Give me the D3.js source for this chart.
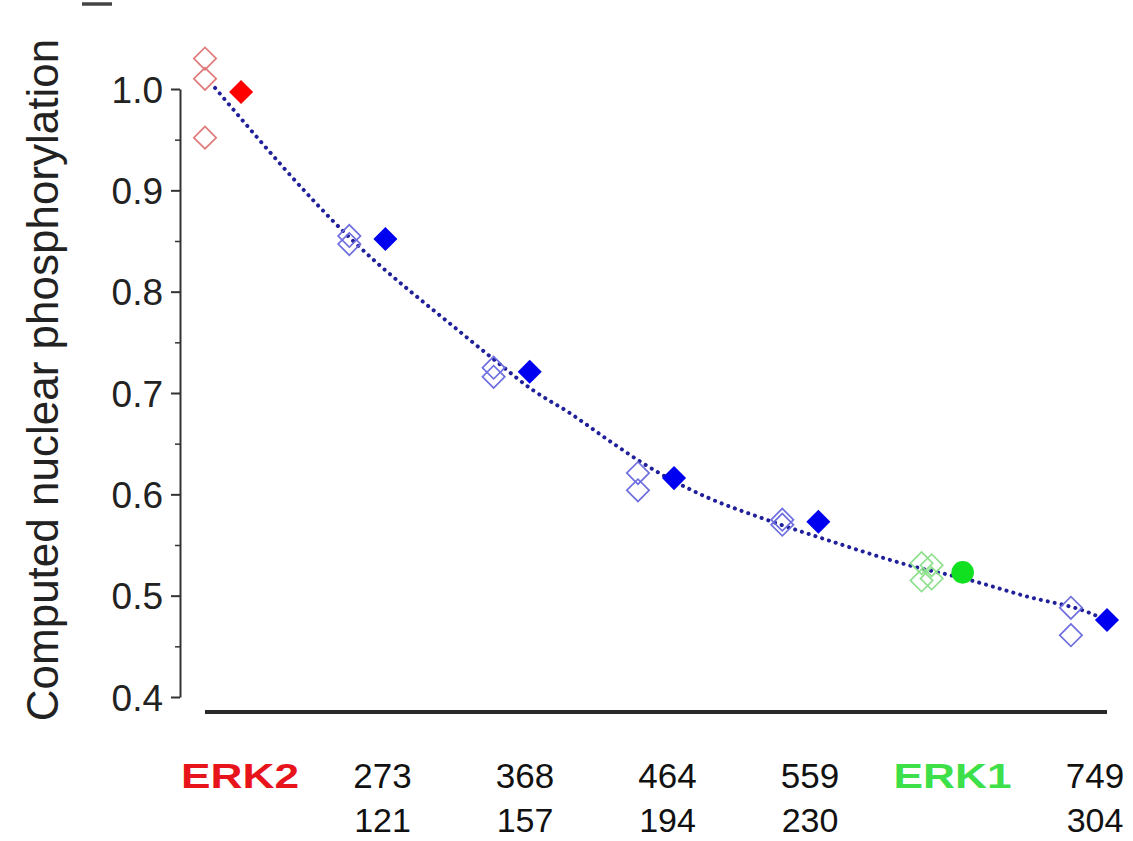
<!DOCTYPE html>
<html>
<head>
<meta charset="utf-8">
<script src="https://cdn.jsdelivr.net/npm/d3@7"></script>
<style>
  body { margin: 0; background: #fff; }
  svg { display: block; font-family: "Liberation Sans", Arial, sans-serif; }
</style>
</head>
<body>
<svg id="chart" width="1133" height="841"></svg>
<script>
// x categories (top row / bottom row of the labels)
var categories = ["ERK2", "273", "368", "464", "559", "ERK1", "749"]
var subLabels = ["", "121", "157", "194", "230", "", "304"]

// filled markers, one per category
var filledValues = [0.997, 0.852, 0.721, 0.616, 0.573, 0.523, 0.476]

// open markers, several per category
var openValues = [
    [1.030, 1.010, 0.952],
    [0.855, 0.847],
    [0.725, 0.716],
    [0.621, 0.604],
    [0.575, 0.570],
    [0.532, 0.530, 0.515, 0.517],
    [0.488, 0.461]
]

// dotted fit curve (x in category units)
var fitX = [-0.18, 0.755, 1.52, 1.77, 2.02, 2.28, 2.54, 2.78, 3.23, 3.60, 4.06, 4.68, 4.98, 5.45, 5.88, 6.02]
var fitY = [1.001, 0.853, 0.760, 0.731, 0.703, 0.680, 0.654, 0.631, 0.597, 0.577, 0.555, 0.528, 0.518, 0.499, 0.483, 0.474]

var yTicks = [0.4, 0.5, 0.6, 0.7, 0.8, 0.9, 1.0]
var yMinorTicks = [0.45, 0.55, 0.65, 0.75, 0.85, 0.95]

var colorMap = {
    "ERK2": { fill: "#ff0000", open: "#e07a7a", text: "#e8141c" },
    "ERK1": { fill: "#10e020", open: "#8ee08e", text: "#3ee04a" },
    "other": { fill: "#0000f0", open: "#6e6ee0", text: "#111" }
}
function colorsFor(c) {
    return colorMap[c] || colorMap["other"]
}

var svg = d3.select("#chart")

var x = d3.scaleLinear().domain([-0.25, 6]).range([205, 1107])
var y = d3.scaleLinear().domain([0.4, 1.0]).range([697, 89])
var xLabel = d3.scaleLinear().domain([0, 6]).range([240, 1095])

// y axis, major then minor ticks
var yAxis = svg.append("g")
    .attr("transform", "translate(180,0)")
    .call(d3.axisLeft(y).tickValues(yTicks).tickSize(9).tickSizeOuter(0).tickPadding(8)
        .tickFormat(d3.format(".1f")))
yAxis.select(".domain").attr("stroke", "#333").attr("stroke-width", 2)
yAxis.selectAll(".tick line").attr("stroke", "#333").attr("stroke-width", 2)
yAxis.selectAll(".tick text")
    .attr("fill", "#222")
    .style("font-size", "37px")
    .attr("dy", "0.36em")

var yMinor = svg.append("g")
    .attr("transform", "translate(180,0)")
    .call(d3.axisLeft(y).tickValues(yMinorTicks).tickSize(5).tickSizeOuter(0).tickFormat(""))
yMinor.select(".domain").remove()
yMinor.selectAll(".tick line").attr("stroke", "#333").attr("stroke-width", 1.5)

svg.append("text")
    .attr("transform", "translate(58,380) rotate(-90)")
    .attr("text-anchor", "middle")
    .attr("fill", "#222")
    .style("font-size", "44px")
    .text("Computed nuclear phosphorylation")

// panel letter fragment at the top edge
svg.append("line")
    .attr("x1", 82).attr("x2", 112)
    .attr("y1", 4).attr("y2", 4)
    .attr("stroke", "#444")
    .attr("stroke-width", 3.5)

// x axis: a plain thick line, no ticks
svg.append("line")
    .attr("x1", x(-0.25)).attr("x2", x(6))
    .attr("y1", 712).attr("y2", 712)
    .attr("stroke", "#2a2a2a")
    .attr("stroke-width", 4)

// category labels
var lab = svg.append("g").selectAll("g")
    .data(categories)
    .enter()
    .append("g")
    .attr("transform", function(d, i) {
        return "translate(" + xLabel(i) + ",0)"
    })
lab.append("text")
    .attr("y", 788)
    .attr("text-anchor", "middle")
    .attr("fill", function(d) { return colorsFor(d).text })
    .style("font-size", "35px")
    .style("font-weight", function(d) { return d.indexOf("ERK") === 0 ? "bold" : "normal" })
    .each(function(d) {
        if (d.indexOf("ERK") === 0) {
            d3.select(this).attr("textLength", 118).attr("lengthAdjust", "spacingAndGlyphs")
        }
    })
    .text(function(d) { return d })
lab.append("text")
    .attr("y", 832)
    .attr("text-anchor", "middle")
    .attr("fill", "#111")
    .style("font-size", "34px")
    .text(function(d, i) { return subLabels[i] })

// fit curve
var fitLine = d3.line()
    .x(function(d) { return x(d[0]) })
    .y(function(d) { return y(d[1]) })
    .curve(d3.curveMonotoneX)
svg.append("path")
    .datum(d3.zip(fitX, fitY))
    .attr("d", fitLine)
    .attr("fill", "none")
    .attr("stroke", "#20209a")
    .attr("stroke-width", 4)
    .attr("stroke-linecap", "round")
    .attr("stroke-dasharray", "0.1,7")

var diamond = d3.symbol().type(d3.symbolSquare)

// open markers
var openPts = []
openValues.forEach(function(vals, i) {
    vals.forEach(function(v, j) {
        var jitter = categories[i] === "ERK1" ? (j % 2 === 0 ? -0.035 : 0.035) : 0
        openPts.push({ cat: categories[i], xi: i - 0.25 + jitter, v: v })
    })
})
svg.append("g").selectAll("path")
    .data(openPts)
    .enter()
    .append("path")
    .attr("d", diamond.size(250)())
    .attr("transform", function(d) {
        return "translate(" + x(d.xi) + "," + y(d.v) + ") rotate(45)"
    })
    .attr("fill", "none")
    .attr("stroke", function(d) { return colorsFor(d.cat).open })
    .attr("stroke-width", 1.7)

// filled markers
svg.append("g").selectAll("path")
    .data(filledValues)
    .enter()
    .append("path")
    .attr("d", function(d, i) {
        if (categories[i] === "ERK1") {
            return d3.symbol().type(d3.symbolCircle).size(400)()
        }
        return d3.symbol().type(d3.symbolSquare).size(290)()
    })
    .attr("transform", function(d, i) {
        return "translate(" + x(i) + "," + y(d) + ") rotate(45)"
    })
    .attr("fill", function(d, i) { return colorsFor(categories[i]).fill })
</script>
</body>
</html>
